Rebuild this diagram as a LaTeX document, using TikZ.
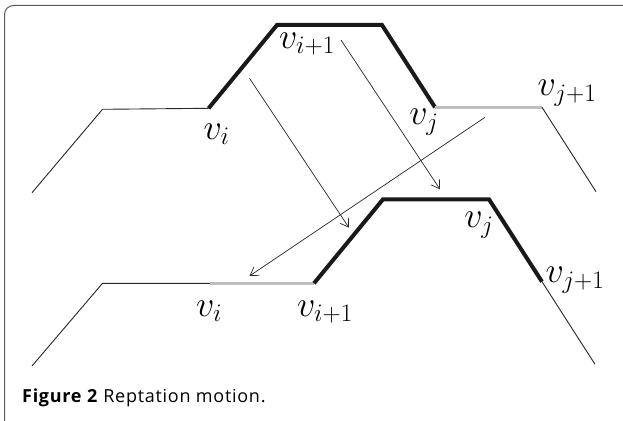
\RequirePackage{fix-cm}
\documentclass[tikz,border=0pt]{standalone}
\usepackage{fontspec}
\setsansfont[LetterSpace=4]{Open Sans}
\usetikzlibrary{arrows.meta}
\definecolor{ChainGray}{RGB}{190,190,190}
\definecolor{FrameGray}{RGB}{90,90,90}

\begin{document}
\begin{tikzpicture}[x=1pt,y=-1pt,
  chain/.style={line width=0.9pt,black!85},
  bond/.style={line width=4pt,black!90},
  moved/.style={line width=3.6pt,ChainGray},
  arr/.style={-{Straight Barb[length=8pt,width=10pt]},line width=0.7pt,black!85},
  lbl/.style={font=\fontsize{36}{38}\selectfont,inner sep=0pt},
]
\useasboundingbox (0,0) rectangle (623,420);
\clip (0,0) rectangle (623,420);
\draw[FrameGray,line width=1pt,rounded corners=9pt] (4.5,423) -- (4.5,5.5) -- (640,5.5);

% upper chain
\coordinate (ua) at (32,192.7);
\coordinate (ub) at (102.5,109.3);
\coordinate (ui) at (208.6,108.3);
\coordinate (uc) at (277,25);
\coordinate (ud) at (382,25);
\coordinate (uj) at (435,107.3);
\coordinate (uk) at (542,107.3);
\coordinate (ue) at (596,191.7);
\draw[chain] (ua) -- (ub) -- (ui);
\draw[bond] (ui) -- (uc) -- (ud) -- (uj);
\draw[moved] (uj) -- (uk);
\draw[chain] (uk) -- (ue);

% lower chain
\coordinate (la) at (32,366);
\coordinate (lb) at (102.5,283.3);
\coordinate (li) at (210,283.3);
\coordinate (lk) at (314,283.3);
\coordinate (lc) at (383,199.3);
\coordinate (ld) at (489,199.3);
\coordinate (lj) at (542,281.7);
\coordinate (le) at (595,364.3);
\draw[chain] (la) -- (lb) -- (li);
\draw[moved] (li) -- (lk);
\draw[bond] (lk) -- (lc) -- (ld) -- (lj);
\draw[chain] (lj) -- (le);

% labels
\node[lbl] (uvi) at (216.5,134) {$v_i$};
\node[lbl] (uvk) at (307,44) {$v_{i+1}$};
\node[lbl] (uvj) at (424,122) {$v_j$};
\node[lbl] (uvl) at (567,93) {$v_{j+1}$};
\node[lbl] (lvi) at (209,311) {$v_i$};
\node[lbl] (lvk) at (325,312) {$v_{i+1}$};
\node[lbl] (lvj) at (479,225) {$v_j$};
\node[lbl] (lvl) at (575,280) {$v_{j+1}$};

% motion
\coordinate (m1s) at (249.5,78.3);
\coordinate (m1e) at (349,227.7);
\coordinate (m2s) at (341,40);
\coordinate (m2e) at (440,189.3);
\coordinate (m3s) at (485,117.3);
\coordinate (m3e) at (249.5,276);
\draw[arr] (m1s) -- (m1e);
\draw[arr] (m2s) -- (m2e);
\draw[arr] (m3s) -- (m3e);

\node[anchor=base west,inner sep=0pt,font=\sffamily\fontsize{18}{20}\selectfont] (cap) at (22,402)
  {\textbf{Figure 2} Reptation motion.};
\end{tikzpicture}
\end{document}
